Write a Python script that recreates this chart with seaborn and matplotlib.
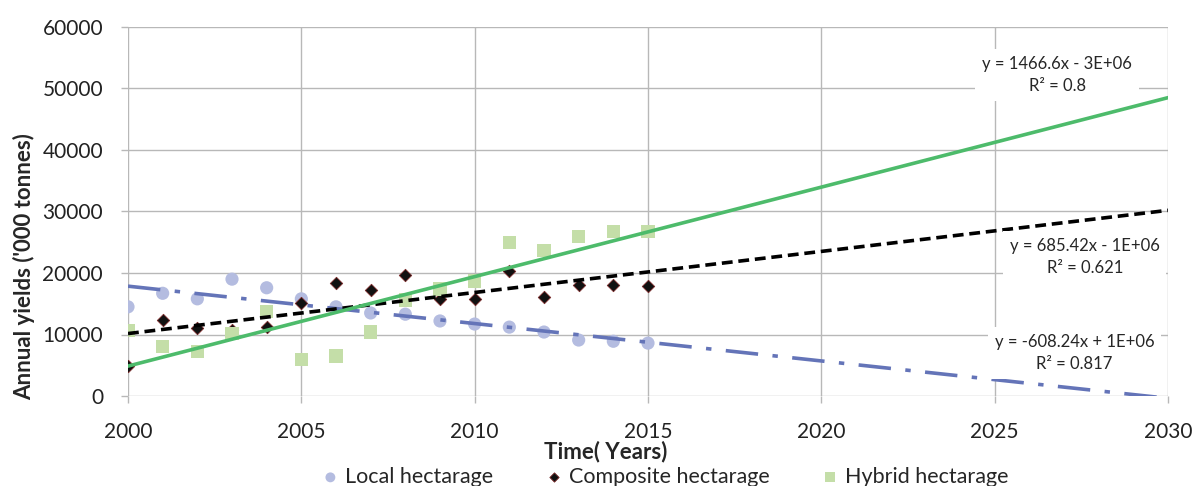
import numpy as np
import pandas as pd
import matplotlib
matplotlib.use("Agg")
import matplotlib.pyplot as plt
import seaborn as sns

years = list(range(2000, 2016))
local = [14500, 16700, 15800, 19000, 17600, 15800, 14500, 13500, 13300, 12200, 11700, 11200, 10400, 9100, 8900, 8600]
composite = [4900, 12400, 11100, 10700, 11200, 15100, 18400, 17200, 19700, 15800, 15800, 20300, 16100, 18000, 18000, 17900]
hybrid = [10600, 8100, 7300, 10100, 13800, 6000, 6500, 10400, 15600, 17400, 18700, 24900, 23700, 25900, 26700, 26700]
series_names = ["Local hectarage", "Composite hectarage", "Hybrid hectarage"]
eq_texts = ["y = -608.24x + 1E+06\nR² = 0.817", "y = 685.42x - 1E+06\nR² = 0.621", "y = 1466.6x - 3E+06\nR² = 0.8"]

sns.set_theme(style="whitegrid")
plt.rcParams['font.family'] = ['Lato', 'DejaVu Sans']

df = pd.DataFrame({
    "Year": years * 3,
    "Value": local + composite + hybrid,
    "Series": sum([[n] * len(years) for n in series_names], []),
})

colors = {"Local hectarage": "#b4bce0", "Composite hectarage": "#111111", "Hybrid hectarage": "#c4dea8"}
markers = {"Local hectarage": "o", "Composite hectarage": "D", "Hybrid hectarage": "s"}
sizes = {"Local hectarage": 90, "Composite hectarage": 40, "Hybrid hectarage": 90}

fig = plt.figure(figsize=(11.94, 4.86), dpi=100)
ax = fig.add_axes([128/1194, 1 - 396/486, (1168-128)/1194, (396-27)/486])

for name in series_names:
    sub = df[df.Series == name]
    sns.scatterplot(data=sub, x="Year", y="Value", ax=ax, color=colors[name],
                    marker=markers[name], s=sizes[name], label=name,
                    edgecolor=("#7a2a2a" if name == "Composite hectarage" else "none"),
                    linewidth=(0.6 if name == "Composite hectarage" else 0), zorder=3)

# trend lines
xfit = np.array([2000, 2030])
trend_styles = {
    "Local hectarage": dict(color="#6474b8", linestyle=(0, (9, 4, 1.5, 4)), linewidth=2.6),
    "Composite hectarage": dict(color="#000000", linestyle=(0, (3, 1.6)), linewidth=2.6),
    "Hybrid hectarage": dict(color="#4dbb6b", linestyle="-", linewidth=2.6),
}
for name, vals in zip(series_names, [local, composite, hybrid]):
    m, b = np.polyfit(years, vals, 1)
    sns.lineplot(x=xfit, y=m * xfit + b, ax=ax, zorder=4, legend=False, **trend_styles[name])

ax.set_xlim(2000, 2030)
ax.set_ylim(0, 60000)
ax.set_xticks(range(2000, 2031, 5))
ax.set_yticks(range(0, 60001, 10000))
ax.grid(True, color="#b8b8b8", linewidth=1.0)
for s in ax.spines.values():
    s.set_visible(False)
ax.tick_params(axis="both", labelsize=15, length=5, width=1.0, color="#b8b8b8",
               labelcolor="#222222")
ax.tick_params(axis="x", pad=14, bottom=True)
ax.tick_params(axis="y", pad=13, left=True)
ax.set_xlabel("Time( Years)", fontsize=16, fontweight="bold")
ax.set_ylabel("Annual yields ('000 tonnes)", fontsize=16, fontweight="bold")
ax.xaxis.set_label_coords(0.459, -0.122)
ax.yaxis.set_label_coords(-0.089, 0.35)

box = dict(boxstyle="square,pad=0.4", facecolor="white", edgecolor="none")
ax.text(2026.8, 52200, eq_texts[2], ha="center", va="center", fontsize=12, linespacing=1.45, bbox=box, zorder=5)
ax.text(2027.6, 22600, eq_texts[1], ha="center", va="center", fontsize=12, linespacing=1.45, bbox=box, zorder=5)
ax.text(2027.3, 7000, eq_texts[0], ha="center", va="center", fontsize=12, linespacing=1.45, bbox=box, zorder=5)

if ax.legend_:
    ax.legend_.remove()
handles, labels = ax.get_legend_handles_labels()
fig.legend(handles, labels, loc="center", bbox_to_anchor=(663/1194, 1 - 477/486), ncol=3,
           frameon=False, fontsize=15.5, handletextpad=0.1, columnspacing=2.2, markerscale=0.75,
           borderpad=0, handlelength=1.2)

fig.savefig("out.png", dpi=100)
